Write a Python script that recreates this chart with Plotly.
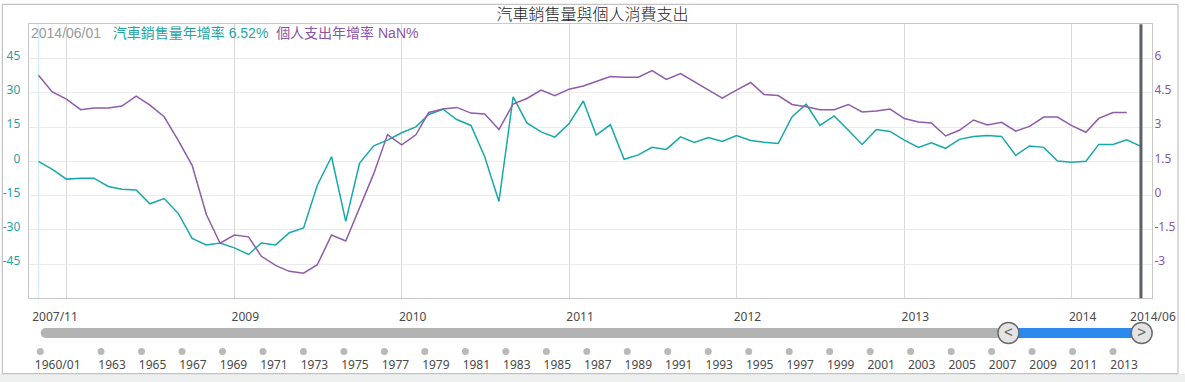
import pandas as pd
import plotly.graph_objects as go

# ---------------- data ----------------
dates = pd.date_range("2007-11-01", periods=80, freq="MS")

car_sales_yoy = [
    0.0, -3.5, -7.8, -7.4, -7.4, -11.0, -12.2, -12.6, -18.6, -16.3,
    -22.9, -33.8, -36.6, -35.8, -37.9, -40.8, -35.8, -36.6, -31.3, -29.2,
    -10.5, 2.0, -26.3, -0.9, 6.8, 9.3, 12.5, 15.1, 20.5, 22.8,
    18.3, 15.7, 2.0, -17.6, 28.2, 16.8, 12.9, 10.6, 16.5, 26.4,
    11.5, 16.0, 0.9, 2.8, 6.1, 5.2, 10.7, 8.3, 10.4, 8.7,
    11.3, 9.1, 8.3, 7.8, 19.4, 25.0, 15.7, 19.9, 13.6, 7.4,
    13.9, 13.1, 9.3, 6.1, 8.1, 5.7, 9.6, 10.9, 11.3, 10.9,
    2.6, 6.7, 6.1, 0.1, -0.4, 0.0, 7.4, 7.4, 9.4, 6.52,
]

personal_spending_yoy = [
    5.27, 4.54, 4.22, 3.76, 3.83, 3.83, 3.92, 4.35, 3.96, 3.45,
    2.41, 1.32, -0.83, -2.09, -1.73, -1.81, -2.66, -3.06, -3.32, -3.40,
    -3.03, -1.73, -1.99, -0.57, 0.96, 2.67, 2.22, 2.66, 3.64, 3.79,
    3.86, 3.61, 3.57, 2.89, 4.01, 4.25, 4.62, 4.37, 4.66, 4.80,
    4.98, 5.21, 5.18, 5.18, 5.47, 5.09, 5.34, 4.99, 4.62, 4.27,
    4.62, 4.95, 4.43, 4.38, 3.99, 3.89, 3.76, 3.76, 3.99, 3.66,
    3.70, 3.79, 3.37, 3.22, 3.18, 2.61, 2.86, 3.31, 3.09, 3.21,
    2.82, 3.03, 3.44, 3.44, 3.06, 2.77, 3.38, 3.64, 3.64, None,
]

car_name = "汽車銷售量年增率"
spend_name = "個人支出年增率"
title_text = "汽車銷售量與個人消費支出"

grid_years = [2008, 2009, 2010, 2011, 2012, 2013, 2014]
label_years = [2009, 2010, 2011, 2012, 2013, 2014]

left_ticks = [-45, -30, -15, 0, 15, 30, 45]
left_tick_text = ["-45", "-30", "-15", "0", "15", "30", "45"]
right_ticks = [-3, -1.5, 0, 1.5, 3, 4.5, 6]
right_tick_text = ["-3", "-1.5", "0", "1.5", "3", "4.5", "6"]

nav_start = "1960-01-01"
nav_end = "2014-06-01"
nav_tick_years = [1960, 1963, 1965, 1967, 1969, 1971, 1973, 1975, 1977, 1979,
                  1981, 1983, 1985, 1987, 1989, 1991, 1993, 1995, 1997, 1999,
                  2001, 2003, 2005, 2007, 2009, 2011, 2013]
nav_tick_labels = ["1960/01"] + [str(y) for y in nav_tick_years[1:]]

# ---------------- colours / layout constants ----------------
TEAL = "#17a8a8"
TEAL_TXT = "#1fa3a3"
PURPLE = "#8f5ca9"
PURPLE_TXT = "#8b56a8"
GRAY_TXT = "#4a4a4a"

W, H = 1185, 382
PL, PR, PT, PB = 28.7, 1151.5, 24.3, 298.3


def fx(p):
    return p / W


def fy(p):
    return 1 - p / H


def ts(t):
    return pd.Timestamp(t).strftime("%Y-%m-%d %H:%M:%S")


# main date scale
ppd_main = 167.5 / 365.25          # px per day
first_px = 38.5
d0 = dates[0]
main_range = [d0 - pd.Timedelta(days=(first_px - PL) / ppd_main),
              d0 + pd.Timedelta(days=(PR - first_px) / ppd_main)]
lab_range = [main_range[0], main_range[0] + pd.Timedelta(days=(W - PL) / ppd_main)]

lab_vals = ([d0 + pd.Timedelta(days=16.5 / ppd_main)]
            + [pd.Timestamp(f"{y}-01-01") + pd.Timedelta(days=11 / ppd_main) for y in label_years]
            + [dates[-1] + pd.Timedelta(days=12 / ppd_main)])
lab_text = [d0.strftime("%Y/%m")] + [str(y) for y in label_years] + [dates[-1].strftime("%Y/%m")]

# navigator date scale
ppd_nav = 20.24 / 365.25
nav0 = pd.Timestamp(nav_start)
nav_range = [nav0 - pd.Timedelta(days=40.3 / ppd_nav),
             nav0 - pd.Timedelta(days=40.3 / ppd_nav) + pd.Timedelta(days=W / ppd_nav)]
nav_dot_x = [pd.Timestamp(f"{y}-01-01") for y in nav_tick_years]
nav_lab_x = [d + pd.Timedelta(days=(17.4 if i == 0 else 11) / ppd_nav) for i, d in enumerate(nav_dot_x)]
nav_bar_start = nav0 + pd.Timedelta(days=5.4 / ppd_nav)

FONT = "Noto Sans, Liberation Sans, sans-serif"

fig = go.Figure()

fig.add_trace(go.Scatter(x=dates, y=car_sales_yoy, name=car_name, mode="lines",
                         line=dict(color=TEAL, width=1.5), xaxis="x", yaxis="y"))
fig.add_trace(go.Scatter(x=dates, y=personal_spending_yoy, name=spend_name, mode="lines",
                         line=dict(color=PURPLE, width=1.5), xaxis="x", yaxis="y2",
                         connectgaps=False))
# dummy trace for the label axis subplot
fig.add_trace(go.Scatter(x=[dates[0]], y=[0], mode="markers", marker=dict(opacity=0),
                         xaxis="x2", yaxis="y5", hoverinfo="skip"))
# navigator dots
fig.add_trace(go.Scatter(x=nav_dot_x, y=[0] * len(nav_dot_x), mode="markers",
                         marker=dict(color="#b9b9b9", size=7), cliponaxis=False,
                         xaxis="x3", yaxis="y3", hoverinfo="skip"))
# navigator bar (full range, gray)
fig.add_trace(go.Scatter(x=[nav_bar_start, dates[0]], y=[0, 0], mode="lines",
                         line=dict(color="#b3b3b3", width=10), xaxis="x3", yaxis="y4",
                         hoverinfo="skip"))
fig.add_trace(go.Scatter(x=[nav_bar_start], y=[0], mode="markers",
                         marker=dict(color="#b3b3b3", size=10), cliponaxis=False,
                         xaxis="x3", yaxis="y4", hoverinfo="skip"))
# navigator selection (blue)
fig.add_trace(go.Scatter(x=[dates[0], dates[-1]], y=[0, 0], mode="lines",
                         line=dict(color="#2c89ee", width=10), xaxis="x3", yaxis="y4",
                         hoverinfo="skip"))
# handles
fig.add_trace(go.Scatter(x=[dates[0], dates[-1]], y=[0, 0], mode="markers+text",
                         text=["<", ">"], textposition="middle center",
                         textfont=dict(family="Liberation Sans", size=15, color="#5a5a5a"),
                         marker=dict(color="#e4e4e4", size=21, line=dict(color="#6b6b6b", width=1.5)),
                         cliponaxis=False, xaxis="x3", yaxis="y4", hoverinfo="skip"))

readout = (
    f'<span style="color:#9a9a9a">{dates[-1].strftime("%Y/%m/%d")}</span>'
    + "\u00a0\u00a0\u00a0"
    + f'<span style="color:{TEAL_TXT}">{car_name}\u00a0{car_sales_yoy[-1]:.2f}%</span>'
    + "\u00a0\u00a0"
    + f'<span style="color:{PURPLE_TXT}">{spend_name}\u00a0'
    + ("NaN" if personal_spending_yoy[-1] is None else f"{personal_spending_yoy[-1]:.2f}")
    + "%</span>"
)

fig.update_layout(
    width=W, height=H,
    margin=dict(l=0, r=0, t=0, b=0),
    paper_bgcolor="white",
    plot_bgcolor="rgba(0,0,0,0)",
    showlegend=False,
    hovermode=False,
    title=dict(text=title_text, x=0.5, xanchor="center", y=fy(14.5), yanchor="middle",
               font=dict(family="Noto Sans CJK TC", size=16, color="#1e1e1e", weight=300)),
    xaxis=dict(type="date", domain=[fx(PL), fx(PR)], range=[ts(r) for r in main_range],
               tickvals=[f"{y}-01-01" for y in grid_years], showticklabels=False,
               showgrid=True, gridcolor="#d9d9d9", gridwidth=1, ticks="",
               showline=True, mirror=True, linecolor="#c8c8c8", zeroline=False, anchor="y"),
    yaxis=dict(domain=[fy(PB), fy(PT)], range=[-60, 60], tickvals=left_ticks,
               ticktext=left_tick_text, tickfont=dict(family=FONT, size=12, color=TEAL_TXT),
               showgrid=True, gridcolor="#ebebeb", showline=True, mirror=True,
               linecolor="#c8c8c8", zeroline=False, ticks="", anchor="x",
               ticklabelshift=-3, ticklabelstandoff=5),
    yaxis2=dict(overlaying="y", side="right", range=[-4.5, 7.5], tickvals=right_ticks,
                ticktext=right_tick_text, tickfont=dict(family=FONT, size=12, color=PURPLE_TXT),
                showgrid=False, showline=False, zeroline=False, ticks="", anchor="x",
                ticklabelshift=-3, ticklabelstandoff=2),
    xaxis2=dict(type="date", domain=[fx(PL), 1.0], range=[ts(r) for r in lab_range],
                tickvals=[ts(v) for v in lab_vals], ticktext=lab_text,
                tickfont=dict(family=FONT, size=12, color=GRAY_TXT),
                showgrid=False, showline=False, zeroline=False,
                ticks="outside", ticklen=7, tickcolor="rgba(0,0,0,0)", anchor="y5"),
    yaxis5=dict(domain=[fy(PB), fy(PB - 8)], range=[-1, 1], visible=False, anchor="x2"),
    xaxis3=dict(type="date", domain=[0, 1], range=[ts(r) for r in nav_range],
                tickvals=[ts(v) for v in nav_lab_x], ticktext=nav_tick_labels,
                tickfont=dict(family=FONT, size=12, color=GRAY_TXT),
                showgrid=False, showline=False, zeroline=False,
                ticks="", anchor="y3"),
    yaxis3=dict(domain=[fy(356), fy(347)], range=[-1, 1], visible=False, anchor="x3"),
    yaxis4=dict(domain=[fy(343), fy(323)], range=[-1, 1], visible=False, anchor="x3"),
    shapes=[
        dict(type="rect", xref="paper", yref="paper", x0=0, x1=1, y0=0, y1=fy(373.7),
             fillcolor="#eef0f0", line=dict(width=0), layer="below"),
        dict(type="rect", xref="paper", yref="paper", x0=fx(2.3), x1=fx(1178), y0=fy(373.7),
             y1=fy(4.3), line=dict(color="#b4b4b4", width=1), layer="below"),
        dict(type="line", xref="x", yref="y domain", x0=dates[0], x1=dates[0], y0=0, y1=1,
             line=dict(color="#cdeefa", width=1), layer="below"),
        dict(type="line", xref="x", yref="y domain", x0=dates[-1], x1=dates[-1], y0=0, y1=1,
             line=dict(color="#5b5f66", width=3)),
    ],
    annotations=[
        dict(text=readout, xref="paper", yref="paper", x=fx(29), y=fy(32.5),
             xanchor="left", yanchor="middle", showarrow=False,
             font=dict(family="Liberation Sans, Noto Sans CJK TC", size=14)),
    ],
)

fig.write_html("out.html",
               config={"displayModeBar": False},
               post_script="document.body.style.margin='0px';document.body.style.overflow='hidden';")
